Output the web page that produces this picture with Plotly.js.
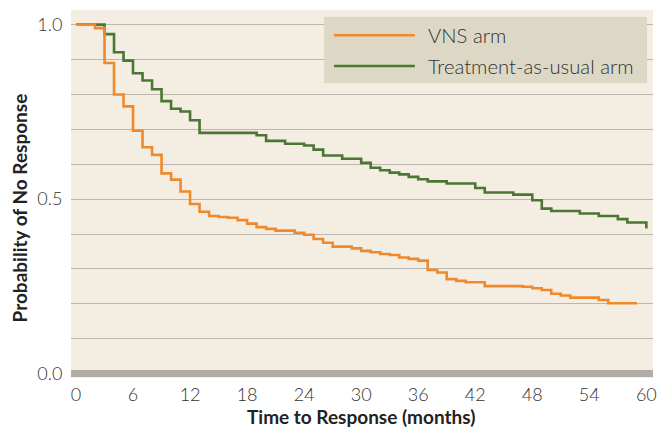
<!DOCTYPE html>
<html>
<head>
<meta charset="utf-8">
<script src="https://cdn.plot.ly/plotly-3.0.1.min.js"></script>
<style>html,body{margin:0;padding:0;background:#fff;}#chart{width:659px;height:429px;}</style>
</head>
<body>
<div id="chart"></div>
<script>
// Data (months, probability of no response)
const seriesNames = ["VNS arm", "Treatment-as-usual arm"];
const vnsMonths = [0, 2, 3, 4, 5, 6, 7, 8, 9, 10, 11, 12, 13, 14, 15, 16, 17, 18, 19, 20, 21, 23, 24, 25, 26, 27, 29, 30, 31, 32, 33, 34, 35, 36, 37, 38, 39, 40, 41, 43, 47, 48, 49, 50, 51, 52, 55, 56, 59];
const vnsProb = [1.0, 0.99, 0.89, 0.80, 0.766, 0.696, 0.649, 0.627, 0.574, 0.556, 0.522, 0.486, 0.464, 0.452, 0.449, 0.447, 0.44, 0.43, 0.42, 0.415, 0.41, 0.404, 0.398, 0.386, 0.375, 0.364, 0.359, 0.352, 0.348, 0.343, 0.34, 0.333, 0.329, 0.324, 0.297, 0.29, 0.271, 0.266, 0.262, 0.251, 0.249, 0.245, 0.24, 0.229, 0.224, 0.218, 0.211, 0.202, 0.202];
const tauMonths = [0, 3, 4, 5, 6, 7, 8, 9, 10, 11, 12, 13, 19, 20, 22, 24, 25, 26, 28, 30, 31, 32, 33, 34, 35, 36, 37, 39, 42, 43, 46, 48, 49, 50, 53, 55, 57, 58, 60];
const tauProb = [1.0, 0.973, 0.921, 0.897, 0.861, 0.84, 0.815, 0.781, 0.759, 0.751, 0.726, 0.69, 0.683, 0.667, 0.659, 0.654, 0.642, 0.625, 0.616, 0.604, 0.59, 0.583, 0.576, 0.571, 0.564, 0.557, 0.551, 0.545, 0.532, 0.519, 0.513, 0.497, 0.473, 0.466, 0.459, 0.452, 0.443, 0.433, 0.416];
const colors = ["#f0892c", "#4b7633"];
const xTitle = "Time to Response (months)";
const yTitle = "Probability of No Response";

const traces = [
  {x: tauMonths, y: tauProb, type: "scatter", mode: "lines", name: seriesNames[1],
   line: {shape: "hv", color: colors[1], width: 2.6}, showlegend: false},
  {x: vnsMonths, y: vnsProb, type: "scatter", mode: "lines", name: seriesNames[0],
   line: {shape: "hv", color: colors[0], width: 2.6}, showlegend: false}
];

const gridCol = "#bdb6ae";
const legendY = [0.9313, 0.8478];
const tickFont = {family: "Lato, sans-serif", size: 18, color: "#333333", weight: 300};
const titleFont = {family: "Lato, sans-serif", size: 19, color: "#222", weight: 700};
const shapes = [
  {type: "rect", xref: "paper", yref: "paper", x0: 0.435, x1: 0.9897, y0: 0.8008, y1: 0.9818,
   fillcolor: "#ddd8c5", line: {width: 0}, layer: "above"}
];
const annotations = [
  {text: yTitle, xref: "paper", yref: "paper", x: -0.0877, y: 0.4633,
   xanchor: "center", yanchor: "middle", textangle: -90, showarrow: false, font: titleFont},
  {text: xTitle, xref: "paper", yref: "paper", x: 0.4985, y: -0.1033, borderpad: 0,
   xanchor: "center", yanchor: "middle", showarrow: false, font: titleFont}
];
seriesNames.forEach((n, i) => {
  shapes.push({type: "line", xref: "paper", yref: "paper", x0: 0.452, x1: 0.5909, y0: legendY[i], y1: legendY[i],
    line: {color: colors[i], width: 2.6}, layer: "above"});
  annotations.push({text: n, xref: "paper", yref: "paper", x: 0.610, y: legendY[i], xanchor: "left", yanchor: "middle",
    showarrow: false, font: {family: "Lato, sans-serif", size: 20.3, color: "#333333", weight: 300}});
});

const layout = {
  width: 659, height: 429,
  margin: {l: 71, r: 6.3, t: 10, b: 51, pad: 0},
  paper_bgcolor: "#ffffff",
  plot_bgcolor: "#f4eee2",
  showlegend: false,
  font: {family: "Lato, sans-serif", size: 18, color: "#333333"},
  xaxis: {
    range: [-0.526, 60.7], tick0: 0, dtick: 6, showgrid: false, zeroline: false, showline: false,
    ticks: "outside", ticklen: 0, tickcolor: "rgba(0,0,0,0)", ticklabelstandoff: 0,
    tickfont: tickFont
  },
  yaxis: {
    range: [-0.0123, 1.042], tick0: 0, dtick: 0.5, tickformat: ".1f",
    showgrid: true, gridcolor: gridCol, gridwidth: 1,
    minor: {tick0: 0, dtick: 0.1, showgrid: true, gridcolor: gridCol, gridwidth: 1},
    zeroline: true, zerolinecolor: "#b3ada7", zerolinewidth: 7, showline: false,
    ticks: "outside", ticklen: 0, tickcolor: "rgba(0,0,0,0)", ticklabelstandoff: 4,
    tickfont: tickFont
  },
  shapes: shapes,
  annotations: annotations
};

Plotly.newPlot("chart", traces, layout, {staticPlot: true, displayModeBar: false});
</script>
</body>
</html>
